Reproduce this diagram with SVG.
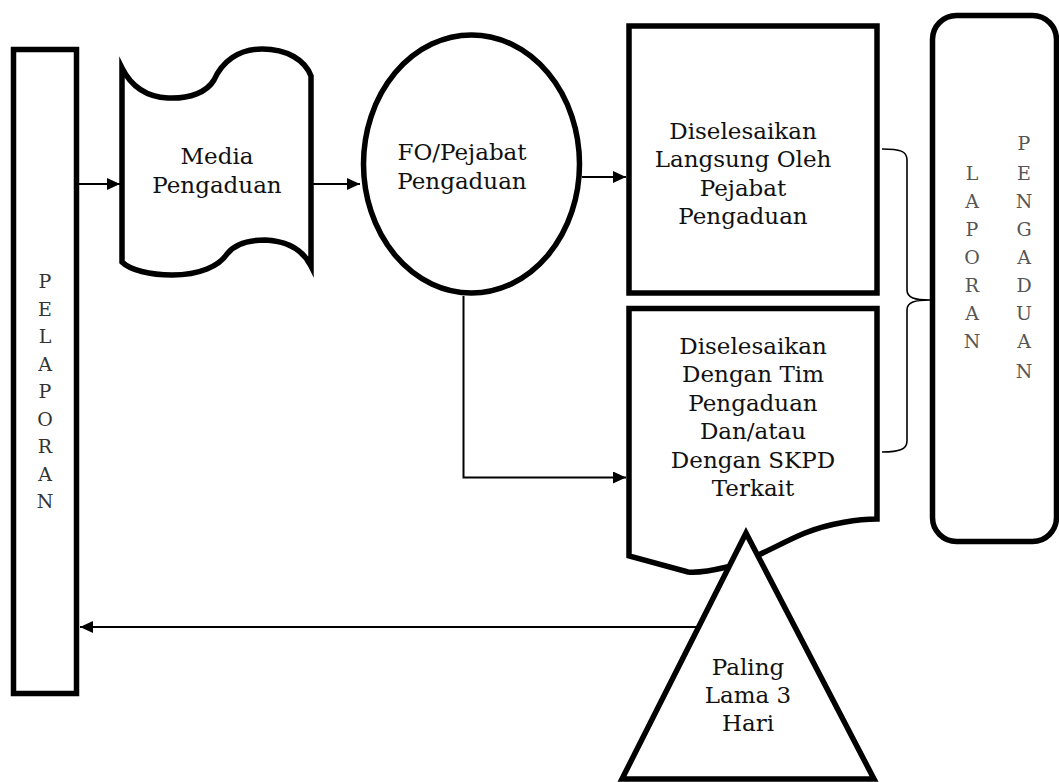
<svg xmlns="http://www.w3.org/2000/svg" width="1059" height="782" viewBox="0 0 1059 782">
<style>
.shape{fill:#fff;stroke:#000;stroke-width:5.5;stroke-miterlimit:10}
.lbl{font-family:"DejaVu Serif","Liberation Serif",serif;font-size:23px;fill:#111;text-anchor:middle}
.vt{font-family:"DejaVu Serif","Liberation Serif",serif;font-size:19px;fill:#555;text-anchor:middle}
.vtd{font-family:"DejaVu Serif","Liberation Serif",serif;font-size:19px;fill:#333;text-anchor:middle}
.conn{fill:none;stroke:#000;stroke-width:2}
.brace{fill:none;stroke:#000;stroke-width:1.6}
</style>
<defs>
<marker id="arr" markerUnits="userSpaceOnUse" markerWidth="13" markerHeight="12" refX="13" refY="6" orient="auto">
<path d="M0,0 L13,6 L0,12 z" fill="#000"/>
</marker>
</defs>
<rect width="1059" height="782" fill="#fff"/>

<g id="connectors">
<line class="conn" x1="79" y1="184" x2="120" y2="184" marker-end="url(#arr)"/>
<line class="conn" x1="313" y1="184" x2="360" y2="184" marker-end="url(#arr)"/>
<line class="conn" x1="582" y1="177" x2="626" y2="177" marker-end="url(#arr)"/>
<path class="conn" d="M463.5,296 V477.5 H626" marker-end="url(#arr)"/>
<line class="conn" x1="700" y1="627" x2="80" y2="627" marker-end="url(#arr)"/>
<path class="brace" d="M882,149 C900,149 907,151 907,160 V290 C907,298 915,300 930,300 C915,300 907,302 907,310 V441 C907,449 900,452 882,452"/>
</g>

<g id="pelaporan">
<rect class="shape" x="13.5" y="49.5" width="63" height="644"/>
<text class="vtd"><tspan x="45" y="288">P</tspan><tspan x="45" y="315.5">E</tspan><tspan x="45" y="343">L</tspan><tspan x="45" y="370.5">A</tspan><tspan x="45" y="398">P</tspan><tspan x="45" y="425.5">O</tspan><tspan x="45" y="453">R</tspan><tspan x="45" y="480.5">A</tspan><tspan x="45" y="508">N</tspan></text>
</g>

<g id="media">
<path class="shape" d="M122,68 C132,88 148,97 168,98 C190,99 207,92 214,80 C222,62 238,49 262,49 C287,49 305,60 311,76 L311,266 C303,250 287,241 265,240 C245,240 233,246 227,254 C219,266 200,275 172,275 C150,275 130,270 122,262 Z"/>
<text class="lbl"><tspan x="217" y="164">Media</tspan><tspan x="217" y="193">Pengaduan</tspan></text>
</g>

<g id="fo">
<ellipse class="shape" cx="471.5" cy="164" rx="108" ry="129"/>
<text class="lbl"><tspan x="462" y="160">FO/Pejabat</tspan><tspan x="462" y="189">Pengaduan</tspan></text>
</g>

<g id="langsung">
<rect class="shape" x="629" y="26" width="248" height="267"/>
<text class="lbl"><tspan x="743" y="138.5">Diselesaikan</tspan><tspan x="743" y="167">Langsung Oleh</tspan><tspan x="743" y="195.5">Pejabat</tspan><tspan x="743" y="224">Pengaduan</tspan></text>
</g>

<g id="tim">
<path class="shape" d="M629,308.5 H877 V519 C860,519 830,523 805,533 C780,543 750,562 727,567 C710,571 697,573 688,572 L629,556 Z"/>
<text class="lbl"><tspan x="753" y="353.5">Diselesaikan</tspan><tspan x="753" y="382">Dengan Tim</tspan><tspan x="753" y="410.5">Pengaduan</tspan><tspan x="753" y="439">Dan/atau</tspan><tspan x="753" y="467.5">Dengan SKPD</tspan><tspan x="753" y="496">Terkait</tspan></text>
</g>

<g id="laporan">
<rect class="shape" x="932.5" y="15.5" width="124" height="526" rx="24"/>
<text class="vt"><tspan x="972" y="180">L</tspan><tspan x="972" y="208">A</tspan><tspan x="972" y="236">P</tspan><tspan x="972" y="264">O</tspan><tspan x="972" y="292">R</tspan><tspan x="972" y="320">A</tspan><tspan x="972" y="348">N</tspan></text>
<text class="vt"><tspan x="1024" y="150">P</tspan><tspan x="1024" y="180">E</tspan><tspan x="1024" y="208">N</tspan><tspan x="1024" y="236">G</tspan><tspan x="1024" y="264">A</tspan><tspan x="1024" y="292">D</tspan><tspan x="1024" y="320">U</tspan><tspan x="1024" y="348">A</tspan><tspan x="1024" y="378">N</tspan></text>
</g>

<g id="paling">
<path class="shape" d="M746,533 L874,779 L622,779 Z"/>
<text class="lbl"><tspan x="748" y="675">Paling</tspan><tspan x="748" y="703">Lama 3</tspan><tspan x="748" y="731">Hari</tspan></text>
</g>
</svg>
